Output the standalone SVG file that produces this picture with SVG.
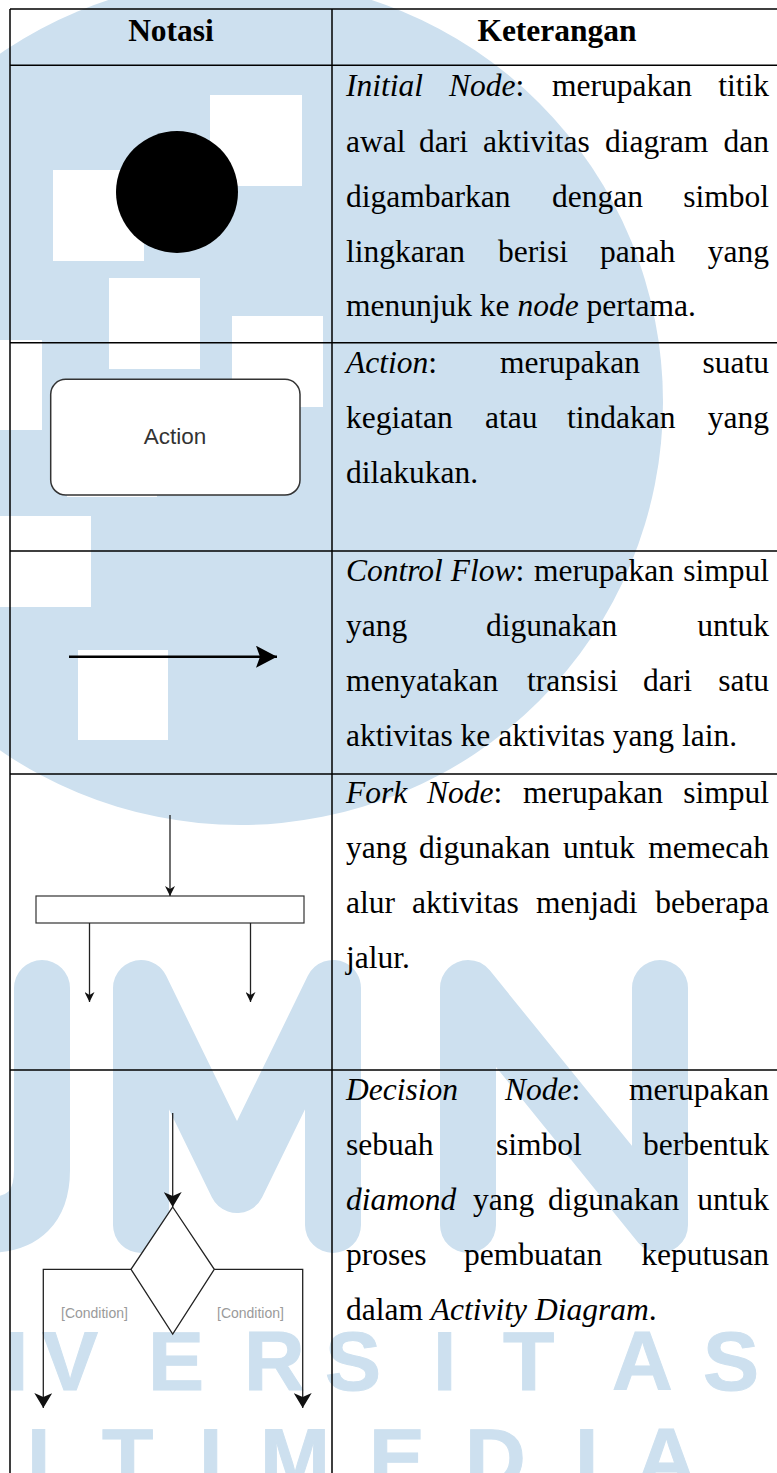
<svg xmlns="http://www.w3.org/2000/svg" width="777" height="1473" viewBox="0 0 777 1473">
<defs>
<style>
.wm{fill:#cde0ef}
.wms{fill:none;stroke:#cde0ef;stroke-width:56;stroke-linecap:round;stroke-linejoin:round}
.wmt{font-family:"Liberation Sans",Arial,sans-serif;font-size:84px;font-weight:bold;fill:#cde0ef;stroke:#cde0ef;stroke-width:1}
.hole{fill:#fff}
.grid{stroke:#000;stroke-width:1.5;fill:none}
.t{font-family:"Liberation Serif","Times New Roman",serif;font-size:31.5px;fill:#000}
.i{font-style:italic}
.h{font-weight:bold;text-anchor:middle}
.e{text-anchor:end}
.ln{fill:none;stroke:#222;stroke-width:1.3}
.cond{font-family:"Liberation Sans",Arial,sans-serif;font-size:14px;fill:#9a9a9a}
</style>
<marker id="ahSmall" markerUnits="userSpaceOnUse" viewBox="0 0 10 10" refX="10" refY="5" markerWidth="10" markerHeight="10" orient="auto"><path d="M0,0 L10,5 L0,10 L3,5 z" fill="#111"/></marker>
<marker id="ahBig" markerUnits="userSpaceOnUse" viewBox="0 0 15 18" refX="15" refY="9" markerWidth="15" markerHeight="18" orient="auto"><path d="M0,0 L15,9 L0,18 L4,9 z" fill="#111"/></marker>
<marker id="ahFlow" markerUnits="userSpaceOnUse" viewBox="0 0 21 22" refX="21" refY="11" markerWidth="21" markerHeight="22" orient="auto"><path d="M0,0 L21,11 L0,22 L4,11 z" fill="#000"/></marker>
</defs>
<rect x="0" y="0" width="777" height="1473" fill="#fff"/>
<g id="watermark">
<circle class="wm" cx="240" cy="402" r="423"/>
<rect class="hole" x="210" y="95" width="92" height="91"/>
<rect class="hole" x="53" y="170" width="91" height="91"/>
<rect class="hole" x="109" y="278" width="91" height="91"/>
<rect class="hole" x="232" y="316" width="91" height="91"/>
<rect class="hole" x="-49" y="340" width="91" height="90"/>
<rect class="hole" x="67" y="406" width="90" height="91"/>
<rect class="hole" x="0" y="516" width="91" height="91"/>
<rect class="hole" x="78" y="650" width="90" height="90"/>
<path class="wms" d="M42,988 V1170 Q42,1225 -13,1225 H-80"/>
<path class="wms" d="M141,1225 V988 L237,1185 L333,988 V1225"/>
<path class="wms" d="M468,1225 V988 L660,1225 V988"/>
<text class="wmt" y="1390"><tspan x="5">I</tspan><tspan x="42">V</tspan><tspan x="148">E</tspan><tspan x="244">R</tspan><tspan x="325">S</tspan><tspan x="433">I</tspan><tspan x="503">T</tspan><tspan x="612">A</tspan><tspan x="703">S</tspan></text>
<text class="wmt" y="1487"><tspan x="27">I</tspan><tspan x="102">T</tspan><tspan x="199">I</tspan><tspan x="260">M</tspan><tspan x="369">E</tspan><tspan x="465">D</tspan><tspan x="575">I</tspan><tspan x="636">A</tspan></text>
</g>
<g id="grid">
<path class="grid" d="M10,9 H777 M10,65.3 H777 M10,342.7 H777 M10,551 H777 M10,774 H777 M10,1070 H777 M10,9 V1473 M332,9 V1473"/>
</g>
<g id="header">
<text class="t h" x="171" y="41">Notasi</text>
<text class="t h" x="557" y="41">Keterangan</text>
</g>
<g id="node-initial">
<circle cx="177" cy="192" r="61" fill="#000"/>
<text class="t i" x="346" y="96">Initial</text>
<text class="t" x="449" y="96"><tspan class="i">Node</tspan>:</text>
<text class="t" x="552" y="96">merupakan</text>
<text class="t e" x="769" y="96">titik</text>
<text class="t" y="151.5"><tspan x="346">awal</tspan><tspan x="419">dari</tspan><tspan x="483">aktivitas</tspan><tspan x="605">diagram</tspan></text>
<text class="t e" x="769" y="151.5">dan</text>
<text class="t" y="206.5"><tspan x="346">digambarkan</tspan><tspan x="552">dengan</tspan></text>
<text class="t e" x="769" y="206.5">simbol</text>
<text class="t" y="261.5"><tspan x="346">lingkaran</tspan><tspan x="498">berisi</tspan><tspan x="600">panah</tspan></text>
<text class="t e" x="769" y="261.5">yang</text>
<text class="t" x="346" y="316">menunjuk ke <tspan class="i">node</tspan> pertama.</text>
</g>
<g id="node-action">
<rect x="50.7" y="379.3" width="249.3" height="115.7" rx="15" fill="#fff" stroke="#333" stroke-width="1.5"/>
<text x="175" y="444" text-anchor="middle" font-family="Liberation Sans, Arial, sans-serif" font-size="22.5" fill="#333">Action</text>
<text class="t" x="346" y="373"><tspan class="i">Action</tspan>:</text>
<text class="t" x="500" y="373">merupakan</text>
<text class="t e" x="769" y="373">suatu</text>
<text class="t" y="428"><tspan x="346">kegiatan</tspan><tspan x="485">atau</tspan><tspan x="567">tindakan</tspan></text>
<text class="t e" x="769" y="428">yang</text>
<text class="t" x="346" y="483">dilakukan.</text>
</g>
<g id="node-controlflow">
<text class="t" x="346" y="580.5"><tspan class="i">Control Flow</tspan>:</text>
<text class="t" x="534" y="580.5">merupakan</text>
<text class="t e" x="769" y="580.5">simpul</text>
<text class="t" y="635.5"><tspan x="346">yang</tspan><tspan x="486">digunakan</tspan></text>
<text class="t e" x="769" y="635.5">untuk</text>
<text class="t" y="690.5"><tspan x="346">menyatakan</tspan><tspan x="527">transisi</tspan><tspan x="643">dari</tspan></text>
<text class="t e" x="769" y="690.5">satu</text>
<text class="t" x="346" y="745.5">aktivitas ke aktivitas yang lain.</text>
</g>
<g id="node-fork">
<rect x="36" y="896" width="268" height="27" fill="#fff" stroke="#333" stroke-width="1.2"/>
<text class="t i" x="346" y="803">Fork</text>
<text class="t" x="427" y="803"><tspan class="i">Node</tspan>:</text>
<text class="t" x="523" y="803">merupakan</text>
<text class="t e" x="769" y="803">simpul</text>
<text class="t" y="858"><tspan x="346">yang</tspan><tspan x="419">digunakan</tspan><tspan x="563">untuk</tspan></text>
<text class="t e" x="769" y="858">memecah</text>
<text class="t" y="913"><tspan x="346">alur</tspan><tspan x="412">aktivitas</tspan><tspan x="536">menjadi</tspan></text>
<text class="t e" x="769" y="913">beberapa</text>
<text class="t" x="346" y="968">jalur.</text>
</g>
<g id="node-decision">
<polygon points="172.7,1207 214.3,1269.3 172.7,1334 131,1269.3" fill="#fff" stroke="#222" stroke-width="1.3"/>
<text class="cond" x="61" y="1318">[Condition]</text>
<text class="cond" x="217" y="1318">[Condition]</text>
<text class="t i" x="346" y="1100">Decision</text>
<text class="t" x="505" y="1100"><tspan class="i">Node</tspan>:</text>
<text class="t e" x="769" y="1100">merupakan</text>
<text class="t" y="1155"><tspan x="346">sebuah</tspan><tspan x="496">simbol</tspan></text>
<text class="t e" x="769" y="1155">berbentuk</text>
<text class="t" y="1210"><tspan x="346" class="i">diamond</tspan><tspan x="473">yang</tspan><tspan x="548">digunakan</tspan></text>
<text class="t e" x="769" y="1210">untuk</text>
<text class="t" y="1265"><tspan x="346">proses</tspan><tspan x="464">pembuatan</tspan></text>
<text class="t e" x="769" y="1265">keputusan</text>
<text class="t" x="346" y="1320">dalam <tspan class="i">Activity Diagram</tspan>.</text>
</g>
<g id="connectors">
<line x1="69" y1="656.7" x2="277" y2="656.7" stroke="#000" stroke-width="2.5" marker-end="url(#ahFlow)"/>
<line class="ln" x1="170" y1="815" x2="170" y2="896" marker-end="url(#ahSmall)"/>
<line class="ln" x1="89.5" y1="923" x2="89.5" y2="1002" marker-end="url(#ahSmall)"/>
<line class="ln" x1="250.5" y1="923" x2="250.5" y2="1002" marker-end="url(#ahSmall)"/>
<line class="ln" x1="172.7" y1="1113" x2="172.7" y2="1207" marker-end="url(#ahBig)"/>
<path class="ln" d="M131,1269.3 H43.3 V1408" marker-end="url(#ahBig)"/>
<path class="ln" d="M214.3,1269.3 H302.7 V1408" marker-end="url(#ahBig)"/>
</g>
</svg>
